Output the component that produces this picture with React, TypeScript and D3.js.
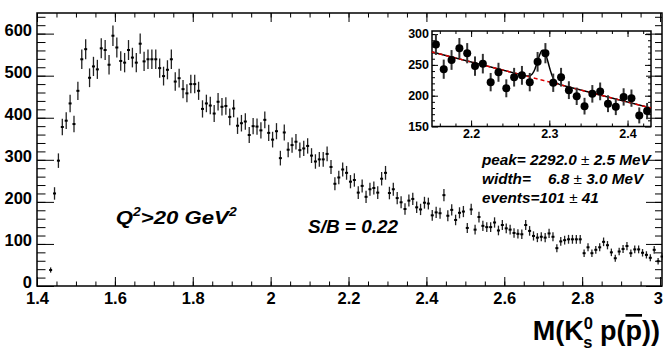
import React, { useRef, useEffect } from "react";
import * as d3 from "d3";

// M(K0s p) spectrum, 10 MeV bins starting at 1.43 GeV
const binStart = 1.43;
const binWidth = 0.01;
const counts = [
  38, 220, 298, 378, 393, 434, 385, 464, 539, 563,
  495, 522, 515, 565, 561, 526, 595, 567, 535, 531,
  561, 543, 531, 576, 534, 539, 539, 539, 518, 499,
  514, 539, 486, 494, 468, 458, 480, 480, 464, 421,
  434, 429, 410, 438, 426, 428, 402, 422, 381, 387,
  391, 359, 380, 379, 370, 395, 364, 348, 368, 304,
  365, 324, 335, 343, 323, 327, 333, 310, 296, 301,
  301, 314, 283, 243, 258, 277, 269, 248, 252, 222,
  238, 212, 230, 233, 222, 255, 269, 221, 230, 209,
  199, 183, 203, 207, 187, 182, 198, 196, 168, 175,
  173, 216, 167, 181, 157, 174, 177, 138, 182, 134,
  164, 143, 140, 140, 151, 132, 145, 137, 134, 126,
  124, 123, 145, 131, 119, 115, 117, 115, 125, 117,
  90, 106, 109, 111, 111, 111, 111, 78, 92, 78,
  86, 92, 105, 97, 80, 66, 82, 88, 95, 78,
  87, 87, 79, 74, 67, 86, 59, 70
];

const xMajorTicks = [1.4, 1.6, 1.8, 2.0, 2.2, 2.4, 2.6, 2.8, 3.0];
const yMajorTicks = [0, 100, 200, 300, 400, 500, 600];
const insetXTicks = [2.2, 2.3, 2.4];
const insetYTicks = [150, 200, 250, 300];

// fit shown in the inset: gaussian on a linear background
const fitPeak = 2.292;
const fitSigma = 0.0068;
const fitAmp = 49;
const bgStart = [2.15, 271];
const bgEnd = [2.43, 180];

const FONT = "'Liberation Sans', Arial, Helvetica, sans-serif";

const App = () => {
  const plotRef = useRef(null);

  useEffect(() => {
    const svg = d3.select(plotRef.current);
    svg.selectAll("*").remove();

    const bins = counts.map((c, i) => ({ m: binStart + binWidth * (i + 0.5), c: c }));

    const x = d3.scaleLinear().domain([1.4, 3.005]).range([37, 662]);
    const y = d3.scaleLinear().domain([0, 649]).range([286, 13]);

    const styleAxis = (g, size) => {
      g.select(".domain").remove();
      g.selectAll("text").attr("font-family", FONT).attr("font-weight", "bold").attr("font-size", size).attr("fill", "#000");
      g.selectAll("line").attr("stroke", "#000");
    };
    const noLabel = () => "";
    const xMinor = d3.range(1.45, 3.0, 0.05);
    const yMinor = d3.range(20, 649, 20);

    // main axes, ticks pointing inside like ROOT
    svg.append("g").attr("transform", "translate(0,286)")
      .call(d3.axisBottom(x).tickValues(xMajorTicks).tickSizeInner(-9).tickSizeOuter(0).tickPadding(6).tickFormat(d3.format("~g")))
      .call(g => styleAxis(g, 16.5))
      .call(g => g.selectAll("text").filter(d => d === 3.0).attr("text-anchor", "end").attr("dx", 2.5));
    svg.append("g").attr("transform", "translate(0,286)")
      .call(d3.axisBottom(x).tickValues(xMinor).tickSizeInner(-4.5).tickSizeOuter(0).tickFormat(noLabel))
      .call(g => styleAxis(g, 15));
    svg.append("g").attr("transform", "translate(0,13)")
      .call(d3.axisTop(x).tickValues(xMajorTicks).tickSizeInner(-9).tickSizeOuter(0).tickFormat(noLabel))
      .call(g => styleAxis(g, 15));
    svg.append("g").attr("transform", "translate(0,13)")
      .call(d3.axisTop(x).tickValues(xMinor).tickSizeInner(-4.5).tickSizeOuter(0).tickFormat(noLabel))
      .call(g => styleAxis(g, 15));

    svg.append("g").attr("transform", "translate(37,0)")
      .call(d3.axisLeft(y).tickValues(yMajorTicks).tickSizeInner(-17).tickSizeOuter(0).tickPadding(5))
      .call(g => styleAxis(g, 16.5))
      .call(g => g.selectAll("text").attr("dy", "0.12em"));
    svg.append("g").attr("transform", "translate(37,0)")
      .call(d3.axisLeft(y).tickValues(yMinor).tickSizeInner(-8.5).tickSizeOuter(0).tickFormat(noLabel))
      .call(g => styleAxis(g, 15));
    svg.append("g").attr("transform", "translate(662,0)")
      .call(d3.axisRight(y).tickValues(yMajorTicks).tickSizeInner(-16).tickSizeOuter(0).tickFormat(noLabel))
      .call(g => styleAxis(g, 15));
    svg.append("g").attr("transform", "translate(662,0)")
      .call(d3.axisRight(y).tickValues(yMinor).tickSizeInner(-7).tickSizeOuter(0).tickFormat(noLabel))
      .call(g => styleAxis(g, 15));

    svg.append("rect").attr("x", 37).attr("y", 13).attr("width", 625).attr("height", 273)
      .attr("fill", "none").attr("stroke", "#000").attr("stroke-width", 1.5);

    // main histogram points
    const pts = svg.append("g");
    pts.selectAll(".err").data(bins).enter().append("line")
      .attr("x1", d => x(d.m)).attr("x2", d => x(d.m))
      .attr("y1", d => y(Math.max(0, d.c - Math.sqrt(d.c)))).attr("y2", d => y(d.c + Math.sqrt(d.c)))
      .attr("stroke", "#222").attr("stroke-width", 1.3);
    pts.selectAll(".mk").data(bins).enter().append("rect")
      .attr("x", d => x(d.m) - 1.5).attr("y", d => y(d.c) - 1)
      .attr("width", 3).attr("height", 2).attr("fill", "#000");

    // inset
    const ix = d3.scaleLinear().domain([2.15, 2.43]).range([432, 651]);
    const iy = d3.scaleLinear().domain([150, 305]).range([126.5, 31]);
    const inset = svg.append("g");
    const ixMinor = d3.range(2.16, 2.43, 0.02);
    const iyMinor = d3.range(160, 305, 10);

    inset.append("g").attr("transform", "translate(0,126.5)")
      .call(d3.axisBottom(ix).tickValues(insetXTicks).tickSizeInner(-6).tickSizeOuter(0).tickPadding(3).tickFormat(d3.format(".1f")))
      .call(g => styleAxis(g, 12.5));
    inset.append("g").attr("transform", "translate(0,126.5)")
      .call(d3.axisBottom(ix).tickValues(ixMinor).tickSizeInner(-3).tickSizeOuter(0).tickFormat(noLabel))
      .call(g => styleAxis(g, 12));
    inset.append("g").attr("transform", "translate(0,31)")
      .call(d3.axisTop(ix).tickValues(insetXTicks).tickSizeInner(-6).tickSizeOuter(0).tickFormat(noLabel))
      .call(g => styleAxis(g, 12));
    inset.append("g").attr("transform", "translate(0,31)")
      .call(d3.axisTop(ix).tickValues(ixMinor).tickSizeInner(-3).tickSizeOuter(0).tickFormat(noLabel))
      .call(g => styleAxis(g, 12));
    inset.append("g").attr("transform", "translate(432,0)")
      .call(d3.axisLeft(iy).tickValues(insetYTicks).tickSizeInner(-6).tickSizeOuter(0).tickPadding(3))
      .call(g => styleAxis(g, 12.5))
      .call(g => g.selectAll("text").attr("dy", "0.3em"));
    inset.append("g").attr("transform", "translate(432,0)")
      .call(d3.axisLeft(iy).tickValues(iyMinor).tickSizeInner(-3).tickSizeOuter(0).tickFormat(noLabel))
      .call(g => styleAxis(g, 12));
    inset.append("g").attr("transform", "translate(651,0)")
      .call(d3.axisRight(iy).tickValues(insetYTicks).tickSizeInner(-6).tickSizeOuter(0).tickFormat(noLabel))
      .call(g => styleAxis(g, 12));
    inset.append("g").attr("transform", "translate(651,0)")
      .call(d3.axisRight(iy).tickValues(iyMinor).tickSizeInner(-3).tickSizeOuter(0).tickFormat(noLabel))
      .call(g => styleAxis(g, 12));

    inset.append("rect").attr("x", 432).attr("y", 31).attr("width", 219).attr("height", 95.5)
      .attr("fill", "none").attr("stroke", "#000").attr("stroke-width", 1.5);

    const bg = m => bgStart[1] + (m - bgStart[0]) * (bgEnd[1] - bgStart[1]) / (bgEnd[0] - bgStart[0]);
    const total = m => bg(m) + fitAmp * Math.exp(-0.5 * Math.pow((m - fitPeak) / fitSigma, 2));
    const fitGrid = d3.range(2.15, 2.4301, 0.0005);
    const fitLine = fn => d3.line().x(d => ix(d)).y(d => iy(fn(d)))(fitGrid);

    inset.append("path").attr("d", fitLine(total)).attr("fill", "none").attr("stroke", "#000").attr("stroke-width", 1.5);
    inset.append("path").attr("d", fitLine(bg)).attr("fill", "none").attr("stroke", "#e00000")
      .attr("stroke-width", 1.5).attr("stroke-dasharray", "4,3");

    const insetBins = bins.filter(d => d.m > 2.15 && d.m < 2.43);
    inset.selectAll(".ierr").data(insetBins).enter().append("line")
      .attr("x1", d => ix(d.m)).attr("x2", d => ix(d.m))
      .attr("y1", d => iy(d.c - Math.sqrt(d.c))).attr("y2", d => iy(Math.min(305, d.c + Math.sqrt(d.c))))
      .attr("stroke", "#333").attr("stroke-width", 2);
    inset.selectAll(".imk").data(insetBins).enter().append("circle")
      .attr("cx", d => ix(d.m)).attr("cy", d => iy(d.c)).attr("r", 4).attr("fill", "#000");
  }, []);

  const italic = { fontFamily: FONT, fontWeight: "bold", fontStyle: "italic", whiteSpace: "pre" } as React.CSSProperties;
  const pm = <tspan fontWeight="normal" fontStyle="normal">±</tspan>;

  return (
    <svg width={663} height={351} style={{ position: "absolute", left: 0, top: 0, background: "#fff" }}>
      <g ref={plotRef} />
      <text x={115.7} y={223.5} fontSize={19} style={italic} textLength={121} lengthAdjust="spacingAndGlyphs">
        Q<tspan dy={-8} fontSize={12}>2</tspan><tspan dy={8}>&gt;20 GeV</tspan><tspan dy={-8} fontSize={12}>2</tspan>
      </text>
      <text x={308} y={232.7} fontSize={17.5} style={italic} textLength={90} lengthAdjust="spacingAndGlyphs">S/B = 0.22</text>
      <text x={482} y={164.5} fontSize={15.3} style={italic}>peak= 2292.0 {pm} 2.5 MeV</text>
      <text x={482} y={184} fontSize={15.3} style={italic}>width=<tspan x={548}>6.8 </tspan>{pm} 3.0 MeV</text>
      <text x={482} y={203} fontSize={15.3} style={italic}>events=101 {pm} 41</text>
      <text x={660} y={340} fontSize={27} textAnchor="end" style={{ fontFamily: FONT, fontWeight: "bold", whiteSpace: "pre" }}>
        M(K<tspan dy={-11} fontSize={16.5}>0</tspan><tspan dx={-9.5} dy={19} fontSize={16.5}>s</tspan><tspan dy={-8}> p(</tspan><tspan textDecoration="overline">p</tspan>))
      </text>
    </svg>
  );
};

export default App;
